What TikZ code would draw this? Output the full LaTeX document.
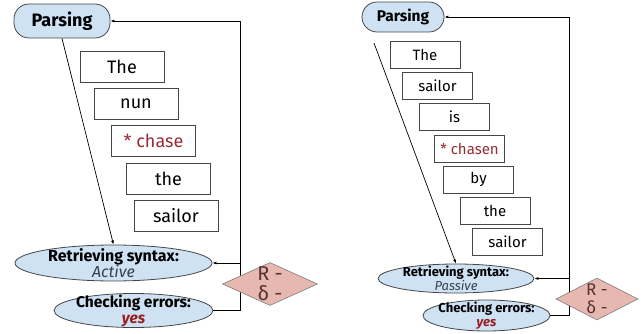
\documentclass[tikz,border=0pt]{standalone}
\usepackage{fontspec}
\setmainfont{Fira Sans}
\usetikzlibrary{arrows.meta,shapes.geometric}
\definecolor{stepblue}{RGB}{207,226,243}
\definecolor{diamred}{RGB}{230,184,175}
\definecolor{diamtext}{RGB}{85,50,50}
\definecolor{errred}{RGB}{153,30,30}
\definecolor{starred}{RGB}{150,45,55}
\definecolor{edgegray}{RGB}{70,70,70}
\definecolor{synslate}{RGB}{55,65,85}

\begin{document}
\begin{tikzpicture}[x=1pt,y=-1pt,>={Latex[length=4pt,width=3pt]},
    every node/.style={align=center},
    parse/.style={draw=edgegray,line width=0.8pt,fill=stepblue,rounded corners=15pt,font=\bfseries},
    word/.style={draw=edgegray,line width=0.9pt,fill=white},
    blob/.style={ellipse,draw=edgegray,line width=0.8pt,fill=stepblue,inner xsep=-40pt,inner ysep=-20pt},
    check/.style={diamond,draw=edgegray!70,line width=0.6pt,fill=diamred,text=diamtext,inner xsep=-10pt,inner ysep=-15pt,aspect=2.2},
    link/.style={line width=0.7pt}]
  \useasboundingbox (0,0) rectangle (642,334);

  % active sentence
  \node[parse,minimum width=96pt,minimum height=34pt,font=\bfseries\fontsize{18}{20}\selectfont] (parseL) at (62,21) {Parsing};
  \begin{scope}[every node/.append style={word,minimum width=84pt,minimum height=31pt,font=\fontsize{18}{20}\selectfont}]
    \node (theL) at (122,66.5) {The};
    \node (nunL) at (136,103.5) {nun};
    \node[text=starred] (chaseL) at (153.5,141) {* chase};
    \node (the2L) at (168.5,178.5) {the};
    \node (sailorL) at (176,216) {sailor};
  \end{scope}
  \node[blob,minimum width=197pt,minimum height=36pt,font=\fontsize{16}{16.5}\selectfont] (retrL) at (113.5,263)
    {\bfseries Retrieving syntax:\\\itshape\color{synslate}Active};
  \node[blob,minimum width=159pt,minimum height=34pt,font=\fontsize{15.5}{16}\selectfont] (chkL) at (133.5,310.5)
    {\bfseries Checking errors:\\\bfseries\itshape\color{errred}yes};
  \coordinate (busL) at (240,0);
  \draw[link,->] (parseL.south) -- (retrL.north);
  \draw[link,->] (chkL.east) -- (chkL.east -| busL) -- (parseL.east -| busL) -- (parseL.east);
  \draw[link,->] (retrL.east -| busL) -- (retrL.east);
  \node[check,minimum width=95pt,minimum height=43pt,font=\fontsize{20}{20}\selectfont] (diamL) at (270,284) {R -\\δ -};

  % passive sentence
  \node[parse,minimum width=82pt,minimum height=30pt,font=\bfseries\fontsize{15.5}{17}\selectfont] (parseR) at (403,17) {Parsing};
  \begin{scope}[every node/.append style={word,minimum width=70pt,minimum height=27pt,font=\fontsize{15}{17}\selectfont}]
    \node (theR) at (425,55) {The};
    \node (sailorR) at (437.5,86) {sailor};
    \node (isR) at (454.5,117) {is};
    \node[text=starred] (chasenR) at (469.5,149) {* chasen};
    \node (byR) at (478.5,179.5) {by};
    \node (the2R) at (495,211) {the};
    \node (sailor2R) at (507.5,242) {sailor};
  \end{scope}
  \node[blob,minimum width=156pt,minimum height=29pt,font=\fontsize{13}{13.5}\selectfont] (retrR) at (456,278.5)
    {\bfseries Retrieving syntax:\\\itshape\color{synslate}Passive};
  \node[blob,minimum width=127pt,minimum height=31pt,font=\fontsize{13}{14.5}\selectfont] (chkR) at (486.5,315.5)
    {\bfseries Checking errors:\\\bfseries\itshape\color{errred}yes};
  \coordinate (busR) at (569,0);
  \coordinate (tailR) at (374,43);
  \draw[link,->] (tailR) -- (retrR.north);
  \draw[link,->] (chkR.east) -- (chkR.east -| busR) -- (parseR.east -| busR) -- (parseR.east);
  \draw[link,->] (retrR.east -| busR) -- (retrR.east);
  \node[check,minimum width=82pt,minimum height=42pt,font=\fontsize{17}{18}\selectfont] (diamR) at (597,299) {R -\\δ -};
\end{tikzpicture}
\end{document}
